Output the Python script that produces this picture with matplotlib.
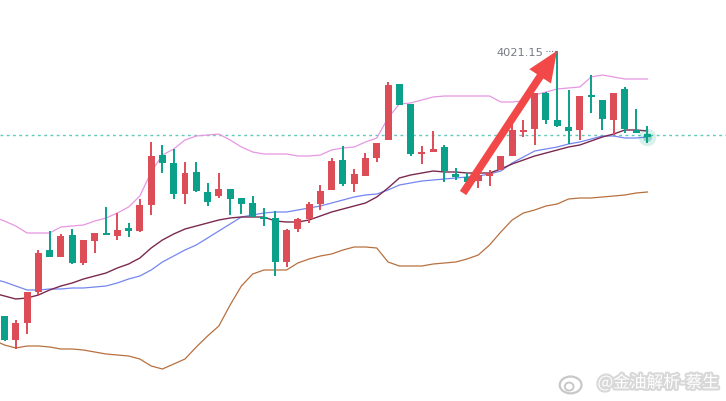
import numpy as np
import matplotlib
matplotlib.use('Agg')
from matplotlib import pyplot as plt
import matplotlib.patheffects as pe
from matplotlib.patches import Ellipse

# candles (open, high, low, close)
opens  = [3756, 3732, 3749, 3780, 3822, 3815, 3837, 3809, 3831, 3839,
          3836, 3844, 3841, 3867, 3917, 3909, 3878, 3900, 3880, 3876,
          3883, 3874, 3869, 3855, 3854, 3810, 3843, 3853, 3868, 3882,
          3912, 3888, 3896, 3914, 3932, 3988, 3968, 3918, 3920, 3925,
          3898, 3895, 3891, 3896, 3902, 3916, 3940, 3943, 3979, 3952,
          3945, 3942, 3977, 3972, 3952, 3983, 3942, 3938]
highs  = [3756, 3752, 3780, 3822, 3841, 3838, 3843, 3832, 3839, 3865,
          3859, 3849, 3873, 3930, 3927, 3923, 3910, 3910, 3889, 3899,
          3883, 3874, 3876, 3864, 3861, 3843, 3854, 3870, 3887, 3914,
          3926, 3903, 3919, 3929, 3990, 3988, 3968, 3926, 3941, 3927,
          3904, 3899, 3901, 3902, 3916, 3948, 3952, 3979, 3980, 4021.15,
          3982, 3976, 3997, 3972, 3979, 3985, 3963, 3946]
lows   = [3731, 3723, 3738, 3777, 3815, 3815, 3808, 3807, 3819, 3837,
          3832, 3835, 3840, 3857, 3899, 3873, 3868, 3880, 3866, 3874,
          3857, 3858, 3855, 3846, 3796, 3805, 3840, 3849, 3862, 3882,
          3886, 3880, 3896, 3910, 3932, 3967, 3916, 3908, 3920, 3890,
          3892, 3880, 3884, 3886, 3902, 3916, 3935, 3927, 3948, 3945,
          3928, 3932, 3959, 3942, 3937, 3939, 3939, 3929]
closes = [3732, 3749, 3780, 3819, 3815, 3836, 3809, 3832, 3839, 3837,
          3842, 3841, 3867, 3916, 3909, 3878, 3899, 3881, 3870, 3883,
          3873, 3868, 3855, 3853, 3810, 3842, 3853, 3868, 3881, 3911,
          3888, 3898, 3914, 3929, 3987, 3967, 3918, 3920, 3923, 3901,
          3895, 3890, 3897, 3899, 3916, 3942, 3942, 3979, 3952, 3946,
          3941, 3976, 3975, 3953, 3979, 3943, 3939, 3935]

# indicator lines, one value per bar starting one bar before the first candle
boll_up  = [3855, 3851, 3846, 3839, 3839, 3839, 3845, 3846, 3847, 3851,
            3854, 3859, 3865, 3876, 3900, 3917, 3923, 3932, 3936, 3937,
            3938, 3932, 3925, 3920, 3918, 3918, 3918, 3916, 3916, 3917,
            3922, 3924, 3925, 3930, 3934, 3954, 3968, 3969, 3972, 3975,
            3976, 3976, 3976, 3976, 3976, 3970, 3970, 3971, 3977, 3980,
            3983, 3984, 3985, 3995, 3997, 3995, 3993, 3993, 3993]
boll_mid = [3779, 3776, 3773, 3774, 3777, 3782, 3786, 3789, 3793, 3796,
            3799, 3804, 3808, 3814, 3824, 3832, 3838, 3843, 3846, 3849,
            3852, 3854, 3855, 3855, 3855, 3851, 3850, 3850, 3852, 3856,
            3860, 3863, 3866, 3869, 3875, 3884, 3894, 3897, 3899, 3901,
            3900, 3900, 3899, 3899, 3899, 3903, 3908, 3912, 3916, 3919,
            3922, 3925, 3927, 3931, 3935, 3938, 3942, 3942, 3941]
boll_low = [3732, 3727, 3724, 3726, 3726, 3725, 3723, 3723, 3722, 3720,
            3718, 3717, 3716, 3713, 3706, 3703, 3708, 3713, 3725, 3736,
            3746, 3767, 3786, 3798, 3802, 3802, 3802, 3809, 3813, 3816,
            3818, 3822, 3825, 3825, 3824, 3810, 3806, 3806, 3806, 3808,
            3809, 3810, 3813, 3817, 3827, 3840, 3852, 3859, 3862, 3866,
            3868, 3873, 3874, 3874, 3875, 3876, 3877, 3879, 3880]
ma_blue  = [3793, 3790, 3786, 3782, 3782, 3783, 3783, 3784, 3784, 3785,
            3786, 3789, 3793, 3796, 3802, 3810, 3816, 3822, 3827, 3834,
            3841, 3848, 3855, 3857, 3859, 3860, 3860, 3862, 3864, 3866,
            3869, 3872, 3875, 3877, 3878, 3882, 3887, 3889, 3891, 3892,
            3893, 3894, 3895, 3896, 3898, 3901, 3909, 3915, 3921, 3923,
            3925, 3928, 3930, 3933, 3936, 3936, 3934, 3934, 3935]

last_price = 3937
peak_label = '4021.15'
arrow_from = (40.65, 3879)
arrow_to = (48.98, 4021.15)

up_col = '#dd4d58'
dn_col = '#0ba08a'

fig = plt.figure(figsize=(7.26, 4.01), dpi=100)
ax = fig.add_axes([0, 0, 1, 1])
ax.set_xlim(-0.4, 63.96)
ax.set_ylim(3671, 4072)
ax.axis('off')

x = np.arange(len(opens))
xl = np.arange(-1, len(opens))

ax.plot(xl, boll_up, color='#e697e3', lw=0.9, zorder=2)
ax.plot(xl, boll_low, color='#b8703f', lw=0.9, zorder=2)
ax.plot(xl, ma_blue, color='#7486f2', lw=0.9, zorder=2)
ax.plot(xl, boll_mid, color='#7a2a50', lw=1.0, zorder=2)

ax.axhline(last_price, color='#5fcab8', lw=1.0, ls=(0, (2, 2.5)), zorder=1)

o = np.array(opens, float)
c = np.array(closes, float)
cols = [up_col if cc > oo else dn_col for oo, cc in zip(o, c)]
ax.vlines(x, lows, highs, colors=cols, lw=1.4, zorder=3)
bottom = np.minimum(o, c)
height = np.maximum(np.abs(c - o), 1.5)
ax.bar(x, height, bottom=bottom, width=0.62, color=cols, lw=0, zorder=4)

# glow on the last bar
ax.scatter([x[-1]], [closes[-1]], s=160, color=dn_col, alpha=0.15, lw=0, zorder=5)
ax.scatter([x[-1]], [closes[-1]], s=40, color=dn_col, alpha=0.35, lw=0, zorder=5)

# high label
ax.text(47.74, 4019, peak_label, ha='right', va='center', fontsize=8.2,
        color='#787b86')
ax.plot([48.0, 48.9], [4021.15, 4021.15], color='#787b86', lw=0.8,
        ls=(0, (1, 1.5)), zorder=3)

ax.annotate('', xy=arrow_to, xytext=arrow_from,
            arrowprops=dict(arrowstyle='simple,head_length=1.0,head_width=0.85,tail_width=0.25',
                            mutation_scale=22, color='#f24848', lw=0,
                            shrinkA=0, shrinkB=0), zorder=6)

# watermark
glow = [pe.Stroke(linewidth=3, foreground='#c8c8c8', alpha=0.7), pe.Normal()]
fig.text(0.99, 0.045, '@金油解析-蔡生', ha='right', va='center', fontsize=12,
         color='white', family=['Noto Sans CJK SC', 'DejaVu Sans'],
         path_effects=glow)
logo = Ellipse((0.786, 0.04), 0.03, 0.042, transform=fig.transFigure,
               facecolor='white', edgecolor='#c8c8c8', lw=1.6)
fig.add_artist(logo)
eye = Ellipse((0.784, 0.036), 0.012, 0.02, transform=fig.transFigure,
              facecolor='white', edgecolor='#c8c8c8', lw=1.4)
fig.add_artist(eye)

fig.savefig('out.png', dpi=100)
